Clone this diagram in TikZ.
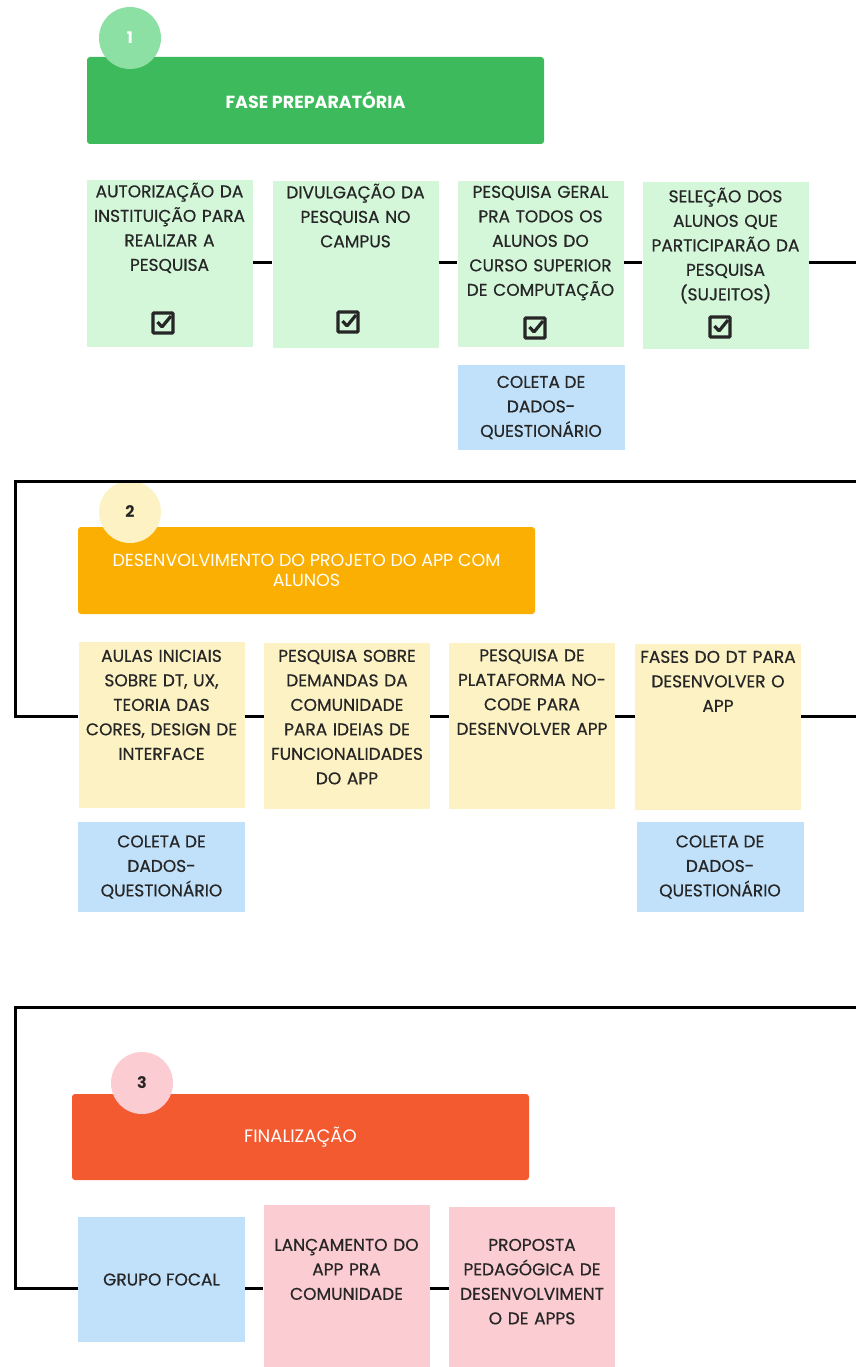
\documentclass[tikz,border=0pt]{standalone}
\usepackage{fontspec}
\setmainfont{Poppins}
\newfontfamily\forte[FakeBold=0.6]{Poppins}
\usetikzlibrary{positioning}

\definecolor{verde}{HTML}{3DBA5B}
\definecolor{verdeclaro}{HTML}{D4F7DA}
\definecolor{verdecirc}{HTML}{8DE0A4}
\definecolor{laranja}{HTML}{FBAF03}
\definecolor{amarelo}{HTML}{FCF2C4}
\definecolor{vermelho}{HTML}{F45A30}
\definecolor{rosa}{HTML}{FBCCD1}
\definecolor{azul}{HTML}{C1E1FB}
\definecolor{cinza}{HTML}{262626}

\begin{document}
\begin{tikzpicture}[x=1pt, y=-1pt, font=\forte\fontsize{17}{24.5}\selectfont,
    etapa/.style={rectangle, minimum width=166pt, minimum height=166pt, inner sep=0pt},
    texto/.style={text width=166pt, align=center, inner sep=0pt, anchor=base, text=cinza},
    coleta/.style={rectangle, fill=azul, minimum width=167pt, inner sep=0pt, align=center, text=cinza},
    fase/.style={rectangle, rounded corners=3pt, minimum width=457pt, minimum height=87pt, inner sep=0pt, text=white, align=center,
        font=\fontsize{17.5}{20}\selectfont},
    numero/.style={circle, minimum size=62pt, inner sep=0pt, font=\fontsize{16}{16}\selectfont\bfseries},
    ligacao/.style={line width=3pt},
    feito/.style={rectangle, draw=cinza, line width=3.2pt, minimum size=20pt, inner sep=0pt, rounded corners=1pt,
        path picture={\draw[cinza, line width=3.2pt] ([shift={(-5.5pt,1pt)}]path picture bounding box.center)
            -- ++(4.5pt,-5pt) -- ++(9pt,11pt);}}]
    \useasboundingbox (0,0) rectangle (856,1367);

    % Fase 1
    \node[fase, fill=verde, font=\fontsize{17.5}{18}\selectfont\bfseries] (hdr1) at (315.5,100.5) {FASE PREPARATÓRIA};
    \node[numero, fill=verdecirc, text=white] (num1) at (130,38) {1};

    \node[etapa, fill=verdeclaro] (s1) at (169.5,263.5) {};
    \node[etapa, fill=verdeclaro] (s2) at (355.5,264.5) {};
    \node[etapa, fill=verdeclaro] (s3) at (540.5,264) {};
    \node[etapa, fill=verdeclaro] (s4) at (725.5,265.5) {};
    \node[texto] (t1) at ([yshift=-17pt]s1.north) {AUTORIZAÇÃO DA\\INSTITUIÇÃO PARA\\REALIZAR A\\PESQUISA};
    \node[texto] (t2) at ([yshift=-17pt]s2.north) {DIVULGAÇÃO DA\\PESQUISA NO\\CAMPUS};
    \node[texto] (t3) at ([yshift=-17pt]s3.north) {PESQUISA GERAL\\PRA TODOS OS\\ALUNOS DO\\CURSO SUPERIOR\\DE COMPUTAÇÃO};
    \node[texto] (t4) at ([yshift=-20pt]s4.north) {SELEÇÃO DOS\\ALUNOS QUE\\PARTICIPARÃO DA\\PESQUISA\\(SUJEITOS)};
    \node[feito] (ok1) at (163,323) {};
    \node[feito] (ok2) at (348,322) {};
    \node[feito] (ok3) at (535,328) {};
    \node[feito] (ok4) at (720,327) {};

    \node[coleta, minimum height=85pt] (q1) at (541,407.5) {COLETA DE\\DADOS-\\QUESTIONÁRIO};

    % Fase 2
    \node[fase, fill=laranja] (hdr2) at (306.5,570.5) {DESENVOLVIMENTO DO PROJETO DO APP COM\\ALUNOS};
    \node[numero, fill=amarelo, text=cinza] (num2) at (130,512) {2};

    \node[etapa, fill=amarelo] (a) at (161.5,725) {};
    \node[etapa, fill=amarelo] (b) at (347,726) {};
    \node[etapa, fill=amarelo] (c) at (532,725.5) {};
    \node[etapa, fill=amarelo] (d) at (718,727) {};
    \node[texto] (ta) at ([yshift=-20pt]a.north) {AULAS INICIAIS\\SOBRE DT, UX,\\TEORIA DAS\\CORES, DESIGN DE\\INTERFACE};
    \node[texto] (tb) at ([yshift=-19pt]b.north) {PESQUISA SOBRE\\DEMANDAS DA\\COMUNIDADE\\PARA IDEIAS DE\\FUNCIONALIDADES\\DO APP};
    \node[texto] (tc) at ([yshift=-19pt]c.north) {PESQUISA DE\\PLATAFORMA NO-\\CODE PARA\\DESENVOLVER APP};
    \node[texto] (td) at ([yshift=-19pt]d.north) {FASES DO DT PARA\\DESENVOLVER O\\APP};

    \node[coleta, minimum height=90pt] (qa) at (161.5,867) {COLETA DE\\DADOS-\\QUESTIONÁRIO};
    \node[coleta, minimum height=90pt] (qd) at (720,867) {COLETA DE\\DADOS-\\QUESTIONÁRIO};

    % Fase 3
    \node[fase, fill=vermelho, minimum height=86pt, font=\fontsize{18}{20}\selectfont] (hdr3) at (300.5,1137) {FINALIZAÇÃO};
    \node[numero, fill=rosa, text=cinza] (num3) at (142,1083) {3};

    \node[coleta, minimum height=125pt] (g) at (161.5,1279.5) {GRUPO FOCAL};
    \node[etapa, fill=rosa, minimum height=180pt] (l) at (346.5,1295) {};
    \node[etapa, fill=rosa, minimum height=180pt] (p) at (532,1297) {};
    \node[texto] (tl) at ([yshift=-46pt]l.north) {LANÇAMENTO DO\\APP PRA\\COMUNIDADE};
    \node[texto] (tp) at ([yshift=-44pt]p.north) {PROPOSTA\\PEDAGÓGICA DE\\DESENVOLVIMENT\\O DE APPS};

    % Ligacoes
    \coordinate (l1) at (856,262);
    \coordinate (r2) at (856,481);
    \coordinate (e2) at (15,716);
    \coordinate (l2) at (856,716);
    \coordinate (r3) at (856,1007);
    \coordinate (e3) at (15,1288);

    \draw[ligacao] (s1.east |- l1) -- (s2.west |- l1);
    \draw[ligacao] (s2.east |- l1) -- (s3.west |- l1);
    \draw[ligacao] (s3.east |- l1) -- (s4.west |- l1);
    \draw[ligacao] (s4.east |- l1) -- (l1);

    \draw[ligacao] (r2) -| (e2) -- (a.west |- e2);
    \draw[ligacao] (a.east |- e2) -- (b.west |- e2);
    \draw[ligacao] (b.east |- e2) -- (c.west |- e2);
    \draw[ligacao] (c.east |- e2) -- (d.west |- e2);
    \draw[ligacao] (d.east |- e2) -- (l2);

    \draw[ligacao] (r3) -| (e3) -- (g.west |- e3);
    \draw[ligacao] (g.east |- e3) -- (l.west |- e3);
    \draw[ligacao] (l.east |- e3) -- (p.west |- e3);
\end{tikzpicture}
\end{document}
